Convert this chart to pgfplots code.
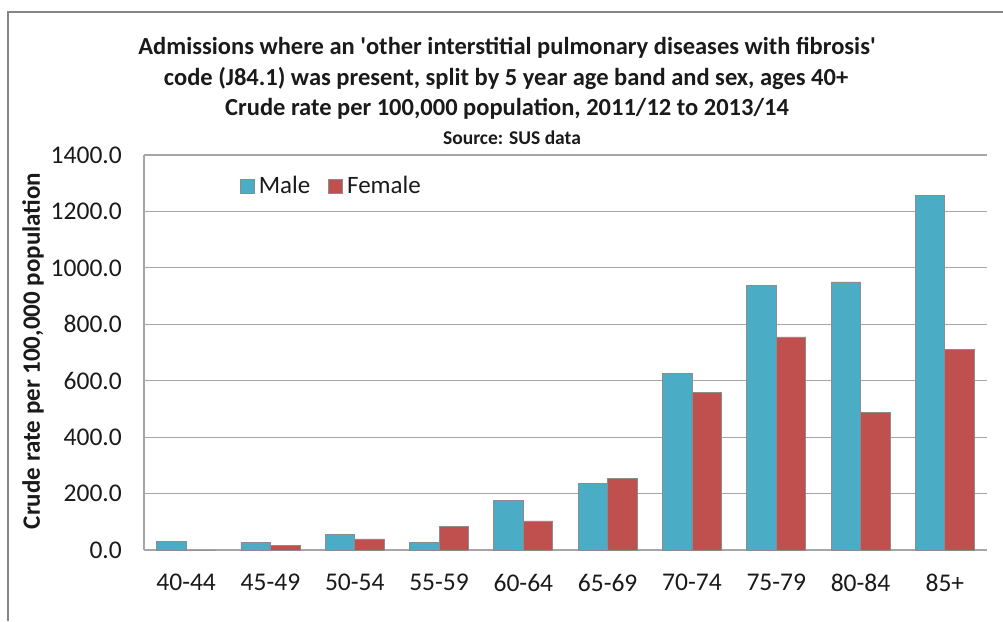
\documentclass[border=0pt]{standalone}
\usepackage{fontspec}
\setmainfont{Carlito}
\usepackage{pgfplots}
\pgfplotsset{compat=1.18}
\definecolor{male}{HTML}{4BACC6}
\definecolor{female}{HTML}{C0504D}
\definecolor{gridc}{HTML}{A6A6A6}
\definecolor{framec}{HTML}{868686}
\definecolor{txt}{HTML}{1A1A1A}
\definecolor{edgec}{HTML}{8C8C8C}
\begin{document}
\begin{tikzpicture}[x=1pt,y=1pt]
\useasboundingbox (0,0) rectangle (1003,621);
\fill[white] (0,0) rectangle (1003,621);
\draw[framec, line width=2pt] (8,0) -- (8,609) -- (1003,609);
\begin{axis}[
  at={(144pt,71pt)}, anchor=south west,
  scale only axis, width=843pt, height=395pt,
  ybar=0pt, bar width=29.5pt,
  xmin=-0.5, xmax=9.5, ymin=0, ymax=1400,
  xtick={0,...,9},
  xticklabels={40-44,45-49,50-54,55-59,60-64,65-69,70-74,75-79,80-84,85+},
  ytick={0,200,...,1400},
  ymajorgrids, grid style={gridc, line width=1.2pt},
  axis x line*=bottom, axis y line*=left,
  axis line style={gridc, line width=1.2pt},
  major tick length=0pt,
  ticklabel style={font=\fontsize{25.5}{30}\selectfont, text=txt},
  yticklabel style={inner sep=0pt, xshift=-22pt},
  xticklabel style={inner sep=0pt, yshift=-24pt},
  /pgf/number format/.cd, fixed, fixed zerofill, precision=1, 1000 sep={}, assume math mode=true,
  /pgfplots/.cd,
  legend style={at={(0.2235,0.9215)}, anchor=center, draw=none, fill=none,
    legend columns=2, font=\fontsize{25}{29}\selectfont, text=txt,
    nodes={inner xsep=4pt},
    /tikz/every even column/.append style={column sep=14pt}},
  legend image code/.code={\draw[#1, draw=edgec, line width=0.8pt] (0pt,-7pt) rectangle (14pt,7pt);},
]
\addplot[fill=male, draw=edgec, line width=0.8pt] coordinates {
 (0,30) (1,26) (2,56) (3,26) (4,176) (5,235) (6,626) (7,937) (8,950) (9,1257)};
\addplot[fill=female, draw=edgec, line width=0.8pt] coordinates {
 (0,0) (1,16) (2,39) (3,82) (4,103) (5,253) (6,557) (7,755) (8,487) (9,711)};
\legend{Male, Female}
\end{axis}
\begin{scope}[font=\fontsize{24.5}{29}\selectfont\bfseries, text=txt]
\node at (507,573) {Admissions where an \textquotesingle other interstitial pulmonary diseases with fibrosis\textquotesingle};
\node at (506,543) {code (J84.1) was present, split by 5 year age band and sex, ages 40+};
\node at (507,512) {Crude rate per 100,000 population, 2011/12 to 2013/14};
\end{scope}
\node[font=\fontsize{19.5}{23}\selectfont\bfseries, text=txt] at (512,483) {Source: SUS data};
\node[rotate=90, font=\fontsize{25}{29}\selectfont\bfseries, text=txt] at (33,270) {Crude rate per 100,000 population};
\end{tikzpicture}
\end{document}
